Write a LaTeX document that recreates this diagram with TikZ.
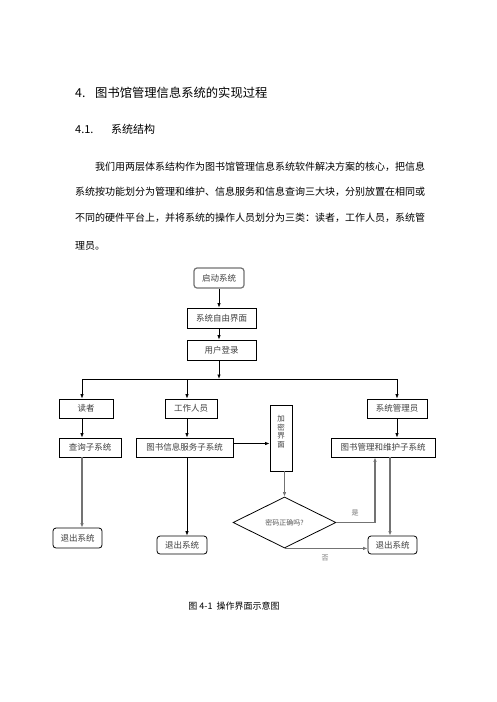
\documentclass[tikz,border=0pt]{standalone}
\usepackage{fontspec}
\setmainfont{Noto Sans CJK SC}
\usetikzlibrary{arrows.meta,shapes.geometric}

\begin{document}
\begin{tikzpicture}[x=1pt,y=-1pt]
    \tikzset{
        para/.style={anchor=west, inner sep=0pt, font=\fontsize{10}{12}\selectfont, text=black},
        box/.style={draw, line width=0.8pt, minimum height=19pt, inner sep=1pt, font=\fontsize{8.5}{10}\selectfont, text=black!75},
        endbox/.style={box, rounded corners=3pt},
        arr/.style={-{Latex[length=4.5pt,width=3.5pt]}, line width=0.8pt},
        garr/.style={arr, draw=black!55, line width=1.2pt},
        lbl/.style={font=\fontsize{7}{8}\selectfont, text=black!55}
    }
    \fill[white] (0,0) rectangle (496,702);
    \useasboundingbox (0,0) rectangle (496,702);

    \node[anchor=west, inner sep=0pt, font=\fontsize{12.3}{14}\selectfont] (title) at (75,93) {\makebox[20pt][l]{4.}图书馆管理信息系统的实现过程};
    \node[anchor=west, inner sep=0pt, font=\fontsize{11}{13}\selectfont] (sect) at (75,129) {\makebox[36pt][l]{4.1.}系统结构};
    \node[para] (p1) at (95,167) {我们用两层体系结构作为图书馆管理信息系统软件解决方案的核心，把信息};
    \node[para] (p2) at (75,192) {系统按功能划分为管理和维护、信息服务和信息查询三大块，分别放置在相同或};
    \node[para] (p3) at (75,218) {不同的硬件平台上，并将系统的操作人员划分为三类：读者，工作人员，系统管};
    \node[para] (p4) at (75,246) {理员。};

    \node[endbox, draw=black!55, line width=1.2pt, minimum width=50pt, minimum height=20pt] (start) at (219,278) {启动系统};
    \node[box, minimum width=69pt, minimum height=20pt] (free) at (221.5,318) {系统自由界面};
    \node[box, minimum width=69pt, minimum height=20pt] (login) at (221.5,350) {用户登录};
    \coordinate (jc) at (219,379);
    \coordinate (jl) at (82,379);
    \coordinate (jm) at (187,379);
    \coordinate (jr) at (397,379);
    \node[box, minimum width=54pt] (reader) at (86,408.5) {读者};
    \node[box, minimum width=52pt] (staff) at (191,408.5) {工作人员};
    \node[box, minimum width=60pt] (admin) at (397,408.5) {系统管理员};
    \node[box, minimum width=62pt] (query) at (90,447.5) {查询子系统};
    \node[box, minimum width=97pt] (service) at (184.5,447.5) {图书信息服务子系统};
    \node[box, minimum width=104pt] (maint) at (383,447.5) {图书管理和维护子系统};
    \node[box, minimum width=22pt, minimum height=66pt, align=center, font=\fontsize{7.5}{8.6}\selectfont] (encrypt) at (281,438) {加\\密\\界\\面\\[5pt]};
    \node[draw, diamond, minimum width=103pt, minimum height=51pt, inner sep=0pt, line width=0.8pt, font=\fontsize{7}{8}\selectfont, text=black!65] (check) at (284.5,522.5) {密码正确吗?};
    \node[endbox, minimum width=49pt, minimum height=20pt] (exitA) at (77.5,538) {退出系统};
    \node[endbox, minimum width=50pt, minimum height=18pt] (exitB) at (182,545) {退出系统};
    \node[endbox, minimum width=49pt, minimum height=18pt] (exitC) at (392.5,545) {退出系统};
    \coordinate (yes) at (375,522.5);
    \node[lbl] (yeslbl) at (355,513) {是};
    \node[lbl] (nolbl) at (325,558) {否};

    \draw[arr] (start.south) -- (start.south |- free.north);
    \draw[arr] (free.south -| start) -- (login.north -| start);
    \draw[arr] (login.south -| start) -- (jc);
    \draw[line width=0.8pt] (jl) -- (jr);
    \draw[arr] (jl) -- (jl |- reader.north);
    \draw[arr] (jm) -- (jm |- staff.north);
    \draw[arr] (jr) -- (jr |- admin.north);
    \draw[arr] (jl |- reader.south) -- (jl |- query.north);
    \draw[arr] (jm |- staff.south) -- (jm |- service.north);
    \draw[arr] (jr |- admin.south) -- (jr |- maint.north);
    \draw[garr] (jl |- query.south) -- (jl |- exitA.north);
    \draw[arr] (jm |- service.south) -- (jm |- exitB.north);
    \draw[arr] ([yshift=4pt]service.east) -- ([yshift=4pt]service.east -| encrypt.west);
    \draw[garr] (encrypt.south -| check) -- (check.north);
    \draw[garr] (check.east) -- (yes) -- (yes |- maint.south);
    \draw[garr] ([xshift=7pt]maint.south) -- ([xshift=7pt]maint.south |- exitC.north);
    \draw[garr] (check.south) -- (check.south -| exitC.west);

    \node[font=\fontsize{9}{11}\selectfont] (caption) at (234,606) {图 4-1 \ 操作界面示意图};
\end{tikzpicture}
\end{document}
